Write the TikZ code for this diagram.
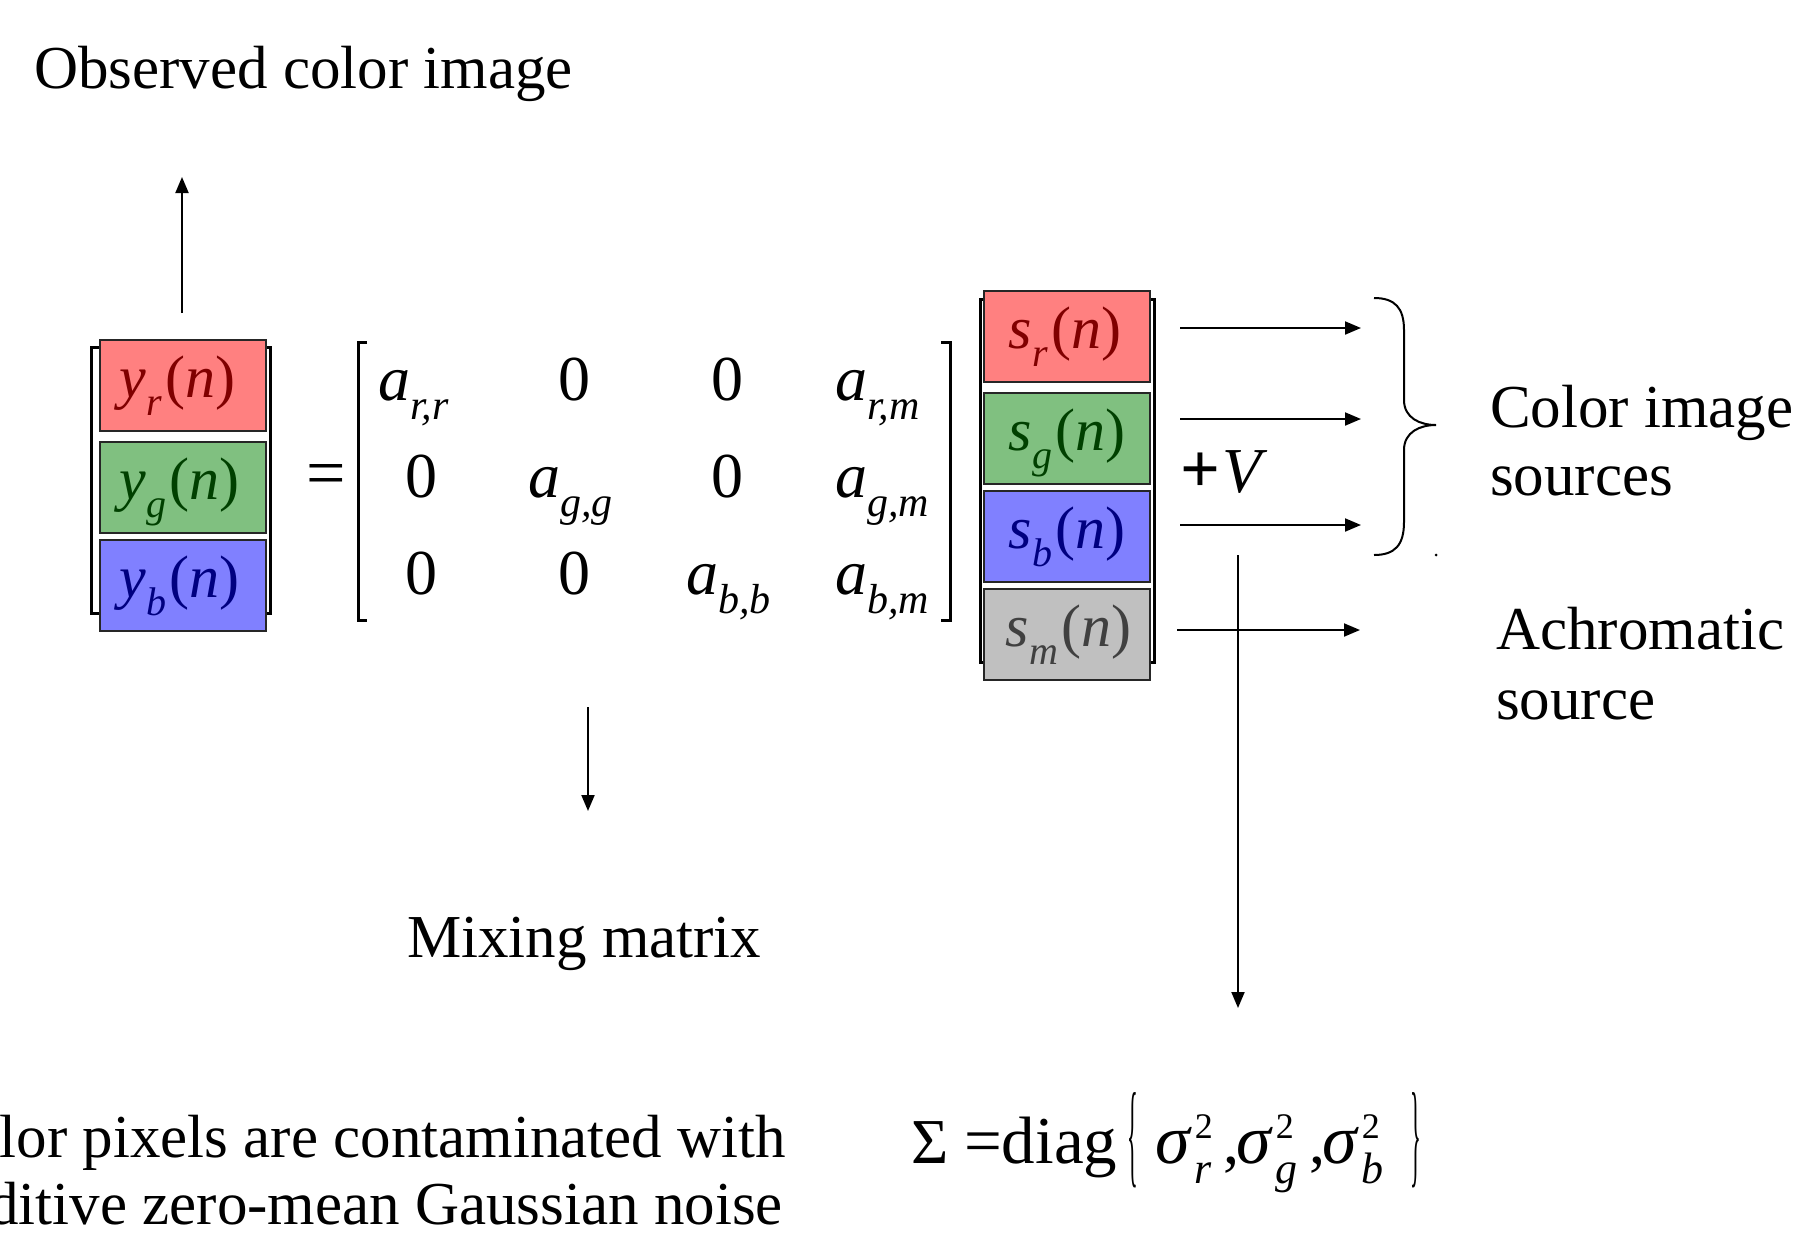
\documentclass[tikz,border=0pt]{standalone}
\usepackage{fontspec}
\setmainfont{Liberation Serif}
\usetikzlibrary{arrows.meta}
\definecolor{redfill}{HTML}{FF8080}
\definecolor{redtxt}{HTML}{800000}
\definecolor{greenfill}{HTML}{80C080}
\definecolor{greentxt}{HTML}{004000}
\definecolor{bluefill}{HTML}{8080FF}
\definecolor{bluetxt}{HTML}{000080}
\definecolor{grayfill}{HTML}{C0C0C0}
\definecolor{graytxt}{HTML}{404040}
\newcommand\sbx[1]{\raisebox{-0.3em}{\fontsize{42}{42}\selectfont\itshape #1}}
\newcommand\vsub[1]{\hspace{1pt}\raisebox{-0.3em}{\fontsize{40}{40}\selectfont\itshape #1}}
\newcommand\vent[2]{\textit{#1}\vsub{#2}\hspace{3pt}(\textit{n})}
\newcommand\sigt[1]{{\fontsize{70}{70}\selectfont\textit{σ}}\hspace{3pt}\makebox[0pt][l]{\raisebox{25pt}{\fontsize{36}{36}\selectfont 2}}\raisebox{-20pt}{\fontsize{44}{44}\selectfont\itshape #1}}
\begin{document}
\begin{tikzpicture}[x=1pt,y=-1pt,
  lbl/.style={font=\fontsize{61}{70}\selectfont, inner sep=0pt},
  vbox/.style={draw=black!85, line width=2pt, minimum width=166pt, minimum height=91pt, inner sep=0pt},
  ment/.style={inner sep=0pt, font=\fontsize{64}{64}\selectfont, anchor=base},
  mentw/.style={ment, anchor=base west},
  vtxt/.style={ment, font=\fontsize{60}{60}\selectfont, anchor=base west},
  arr/.style={line width=2pt, -{Triangle[length=16pt,width=13pt]}},
  brk/.style={line width=3pt}]
\useasboundingbox (0,0) rectangle (1797,1235);

% vector brackets
\draw[brk] (100,347) -- (91.5,347) -- (91.5,613) -- (100,613);
\draw[brk] (262,347) -- (270,347) -- (270,613) -- (262,613);
\draw[brk] (988,299) -- (980,299) -- (980,662) -- (988,662);
\draw[brk] (1146,299) -- (1154,299) -- (1154,662) -- (1146,662);
% matrix brackets
\draw[brk] (367,342) -- (358,342) -- (358,620) -- (367,620);
\draw[brk] (941,342) -- (950,342) -- (950,620) -- (941,620);

% observed vector
\node[vbox, fill=redfill] (yr) at (183,385.5) {};
\node[vbox, fill=greenfill] (yg) at (183,487.5) {};
\node[vbox, fill=bluefill] (yb) at (183,585.5) {};
\node[vtxt, text=redtxt] (tyr) at (119,397) {\vent{y}{r}};
\node[vtxt, text=greentxt] (tyg) at (119,499) {\vent{y}{g}};
\node[vtxt, text=bluetxt] (tyb) at (119,597) {\vent{y}{b}};

% source vector
\node[vbox, fill=redfill] (sr) at (1067,336.5) {};
\node[vbox, fill=greenfill] (sg) at (1067,438) {};
\node[vbox, fill=bluefill] (sb) at (1067,536) {};
\node[vbox, fill=grayfill] (sm) at (1067,634.5) {};
\node[vtxt, text=redtxt] (tsr) at (1008,348) {\vent{s}{r}};
\node[vtxt, text=greentxt] (tsg) at (1008,450) {\vent{s}{g}};
\node[vtxt, text=bluetxt] (tsb) at (1008,548) {\vent{s}{b}};
\node[vtxt, text=graytxt] (tsm) at (1005,646) {\vent{s}{m}};

% equals
\node[ment, font=\fontsize{70}{70}\selectfont, anchor=center] (eq) at (326,480) {=};

% matrix entries
\node[mentw] (m11) at (378,400) {\textit{a}\sbx{r,r}};
\node[ment]  (m12) at (574,400) {0};
\node[ment]  (m13) at (727,400) {0};
\node[mentw] (m14) at (835,400) {\textit{a}\sbx{r,m}};
\node[ment]  (m21) at (421.6,497) {0};
\node[mentw] (m22) at (528,497) {\textit{a}\sbx{g,g}};
\node[ment]  (m23) at (727,497) {0};
\node[mentw] (m24) at (835,497) {\textit{a}\sbx{g,m}};
\node[ment]  (m31) at (421.6,594) {0};
\node[ment]  (m32) at (574,594) {0};
\node[mentw] (m33) at (686,594) {\textit{a}\sbx{b,b}};
\node[mentw] (m34) at (835,594) {\textit{a}\sbx{b,m}};

% +V
\node[ment, anchor=base west] (plusv) at (1180,492) {{\fontsize{70}{70}\selectfont\textbf{+}}\hspace{2pt}\textit{V}};

% labels
\node[lbl, anchor=base west] (obs) at (34,88) {Observed color image};
\node[lbl, anchor=base west] (ci1) at (1490,427) {Color image};
\node[lbl, anchor=base west] (ci2) at (1490,495) {sources};
\node[lbl, anchor=base west] (ac1) at (1496,649) {Achromatic};
\node[lbl, anchor=base west] (ac2) at (1496,719) {source};
\node[lbl, anchor=base west] (mix) at (407,957) {Mixing matrix};
\node[lbl, anchor=base east] (nz1) at (786,1157) {lor pixels are contaminated with};
\node[lbl, anchor=base east] (nz2) at (783,1224) {ditive zero-mean Gaussian noise};

% covariance formula
\node[ment, anchor=base west] (sig) at (911,1163) {Σ};
\node[ment, font=\fontsize{67}{67}\selectfont, anchor=base west] (diag) at (964,1163) {=diag};
\node[ment, anchor=center] (lbr) at (1133,1140) {\scalebox{0.35}[1.8]{\{}};
\node[ment, anchor=base west] (s1) at (1155,1163) {\sigt{r}};
\node[ment, anchor=base west] (c1) at (1223,1163) {,};
\node[ment, anchor=base west] (s2) at (1236,1163) {\sigt{g}};
\node[ment, anchor=base west] (c2) at (1309,1163) {,};
\node[ment, anchor=base west] (s3) at (1322,1163) {\sigt{b}};
\node[ment, anchor=center] (rbr) at (1416,1140) {\scalebox{0.35}[1.8]{\}}};

% coordinates for connectors
\coordinate (upA) at (182,313);
\coordinate (upB) at (182,177);
\coordinate (mxA) at (588,707);
\coordinate (mxB) at (588,811);
\coordinate (a1) at (1180,328);
\coordinate (b1) at (1361,328);
\coordinate (a2) at (1180,419);
\coordinate (b2) at (1361,419);
\coordinate (a3) at (1180,525);
\coordinate (b3) at (1361,525);
\coordinate (a4) at (1177,630);
\coordinate (b4) at (1360,630);
\coordinate (nA) at (1238,555);
\coordinate (nB) at (1238,1008);

\draw[arr] (upA) -- (upB);
\draw[arr] (mxA) -- (mxB);
\draw[arr] (a1) -- (b1);
\draw[arr] (a2) -- (b2);
\draw[arr] (a3) -- (b3);
\draw[arr] (a4) -- (b4);
\draw[arr] (nA) -- (nB);

% brace
\draw[line width=2pt] (1374,298) .. controls (1395,298) and (1404,308) .. (1404,330)
  -- (1404,400) .. controls (1404,418) and (1420,425) .. (1436,425)
  .. controls (1420,425) and (1404,432) .. (1404,450)
  -- (1404,522) .. controls (1404,545) and (1395,555) .. (1374,555);
\fill (1436,555) circle (1.5);
\end{tikzpicture}
\end{document}
